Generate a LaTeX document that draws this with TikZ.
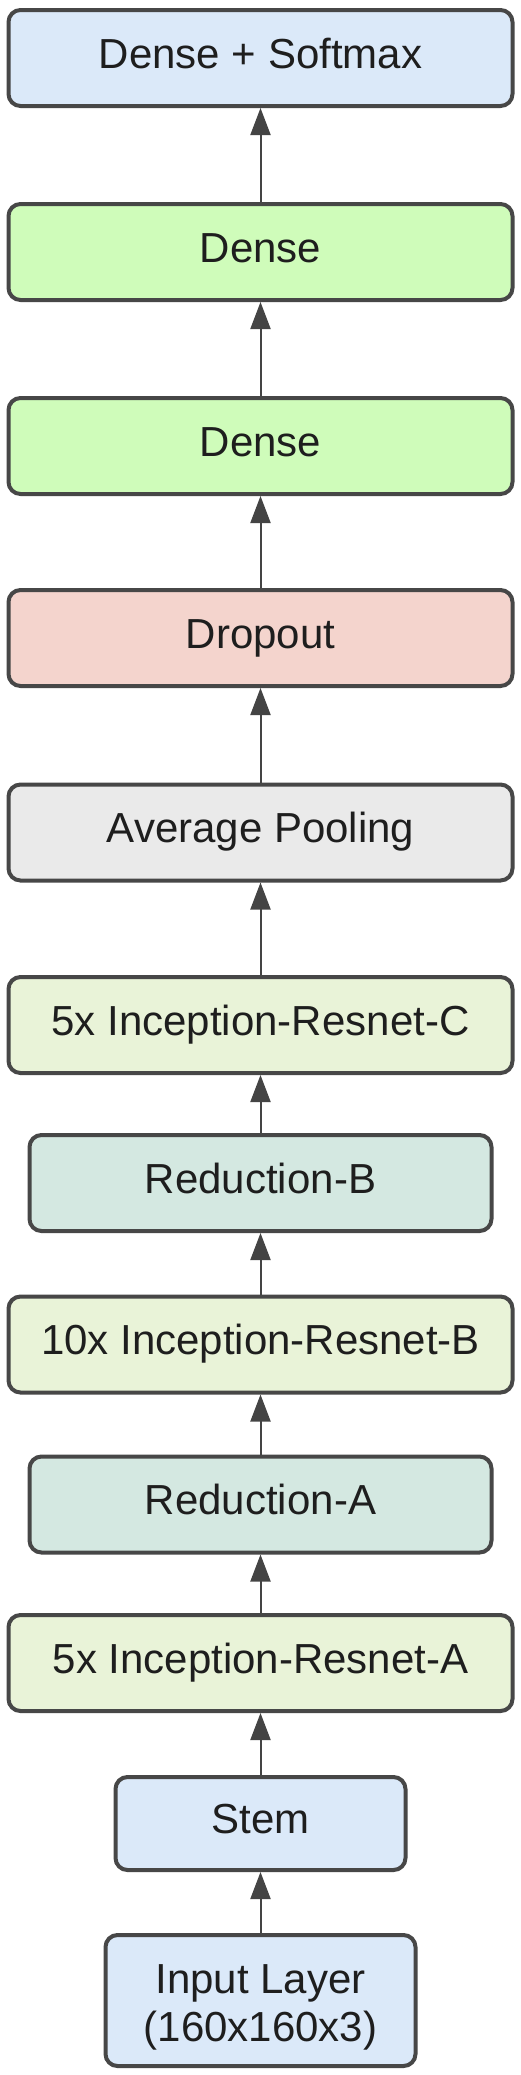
\documentclass[tikz,border=0pt]{standalone}
\usepackage{fontspec}
\setmainfont{Liberation Sans}
\usetikzlibrary{arrows.meta}
\definecolor{edgec}{HTML}{474747}
\definecolor{arrc}{HTML}{444444}
\definecolor{txtc}{HTML}{1E1E1E}
\definecolor{cblue}{HTML}{DBE9F9}
\definecolor{cgreen}{HTML}{CFFCBA}
\definecolor{cpink}{HTML}{F4D4CD}
\definecolor{cgray}{HTML}{EAEAEA}
\definecolor{cincep}{HTML}{E9F3D8}
\definecolor{cred}{HTML}{D4E8E1}
\tikzset{
  layerbox/.style={draw=edgec, line width=4pt, rounded corners=12pt,
    minimum height=96pt, inner sep=0pt, text=txtc,
    font=\fontsize{42pt}{48pt}\selectfont, text height=30pt, text depth=10pt},
  wide/.style={minimum width=504pt},
  mid/.style={minimum width=462pt},
  conn/.style={draw=arrc, line width=2pt, -{Triangle[width=20pt,length=27pt]}}
}
\begin{document}
\begin{tikzpicture}[x=1pt,y=-1pt]
\useasboundingbox[fill=white] (0,0) rectangle (520,2075);
\node[layerbox,wide,fill=cblue]  (soft)  at (260.5,58)    {Dense + Softmax};
\node[layerbox,wide,fill=cgreen] (d1)    at (260.5,252)   {Dense};
\node[layerbox,wide,fill=cgreen] (d2)    at (260.5,446)   {Dense};
\node[layerbox,wide,fill=cpink]  (drop)  at (260.5,638)   {Dropout};
\node[layerbox,wide,fill=cgray]  (avg)   at (260.5,832.5) {Average Pooling};
\node[layerbox,wide,fill=cincep] (incc)  at (260.5,1025)  {5x Inception-Resnet-C};
\node[layerbox,mid,fill=cred]    (redb)  at (260.5,1183)  {Reduction-B};
\node[layerbox,wide,fill=cincep] (incb)  at (260.5,1344.5){10x Inception-Resnet-B};
\node[layerbox,mid,fill=cred]    (reda)  at (260.5,1504.5){Reduction-A};
\node[layerbox,wide,fill=cincep] (inca)  at (260.5,1663)  {5x Inception-Resnet-A};
\node[layerbox,fill=cblue,minimum width=290pt,minimum height=93pt] (stem) at (260.5,1823.5) {Stem};
\node[layerbox,fill=cblue,minimum width=310pt,minimum height=131pt,align=center,
      text height=84pt, text depth=3pt] (inp) at (260.5,2000.5) {Input Layer\\(160x160x3)};
\draw[conn] (inp.north)  -- (stem.south);
\draw[conn] (stem.north) -- (inca.south);
\draw[conn] (inca.north) -- (reda.south);
\draw[conn] (reda.north) -- (incb.south);
\draw[conn] (incb.north) -- (redb.south);
\draw[conn] (redb.north) -- (incc.south);
\draw[conn] (incc.north) -- (avg.south);
\draw[conn] (avg.north)  -- (drop.south);
\draw[conn] (drop.north) -- (d2.south);
\draw[conn] (d2.north)   -- (d1.south);
\draw[conn] (d1.north)   -- (soft.south);
\end{tikzpicture}
\end{document}
